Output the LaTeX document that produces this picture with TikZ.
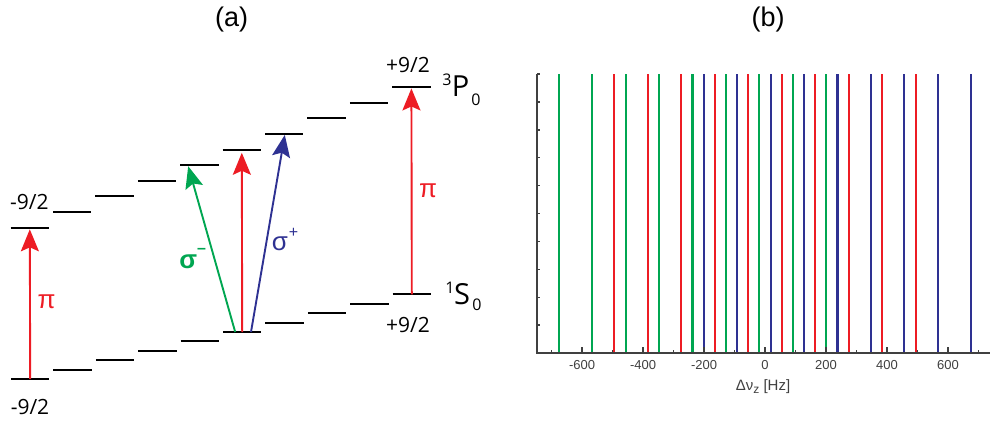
\documentclass[tikz,border=0pt]{standalone}
\usepackage{fontspec}
\setmainfont{Open Sans}
\newfontfamily\arial{Liberation Sans}
\usetikzlibrary{arrows.meta}
\definecolor{cred}{HTML}{ED1C24}
\definecolor{cgreen}{HTML}{00A651}
\definecolor{cblue}{HTML}{2E3192}
\definecolor{caxis}{HTML}{404040}
\tikzset{
  level/.style={line width=1.05pt, black},
  trans/.style={line width=0.95pt, -{Stealth[length=11pt,width=9pt,inset=2pt]}},
  lab/.style={inner sep=0pt, font=\fontsize{10.5}{11}\selectfont},
  term/.style={inner sep=0pt, font=\fontsize{14.5}{15}\selectfont},
  small/.style={inner sep=0pt, font=\fontsize{8}{9}\selectfont},
  panel/.style={inner sep=0pt, font=\arial\fontsize{13.5}{14}\selectfont},
  spec/.style={line width=1.05pt},
  axisline/.style={line width=0.7pt, caxis},
  ticklab/.style={inner sep=0pt, font=\arial\fontsize{6.5}{7}\selectfont, text=caxis},
}
\begin{document}
\begin{tikzpicture}[x=0.5pt,y=-0.5pt]
\useasboundingbox (0,0) rectangle (990,424);
% ---------------- panel (a) ----------------
\node[panel] (pa) at (231.7,20) {(a)};
\foreach \i in {0,...,9} {
  \coordinate (L\i) at ({30.2+42.4*\i},{379-9.4*\i});
  \coordinate (U\i) at ({29.8+42.4*\i},{227.7-15.63*\i});
  \draw[level] (L\i) ++(-19.2,0) -- ++(38.4,0);
  \draw[level] (U\i) ++(-19.2,0) -- ++(38.4,0);
}
% transitions
\draw[trans, cred] (L0) -- ([yshift=-0.8pt]U0);
\draw[trans, cred] (L9) -- ([yshift=-0.7pt]U9);
\draw[trans, cred] (L5) -- ([yshift=-1.6pt]U5);
\draw[trans, cgreen] ([xshift=-3.5pt]L5) -- ([xshift=-5.6pt,yshift=-0.5pt]U4);
\draw[trans, cblue] ([xshift=4.4pt]L5) -- ([xshift=0.3pt,yshift=-0.5pt]U6);
% labels
\node[lab] (mlo) at (30,406.7) {-9/2};
\node[lab] (mup) at (29.3,201.7) {-9/2};
\node[lab] (plo) at (408,325) {+9/2};
\node[lab] (pup) at (408,65) {+9/2};
\node[term] (P) at (460.5,86) {P};
\node[small] (Psup) at (447,80) {3};
\node[small] (Psub) at (476,99.5) {0};
\node[term] (S) at (462,294.5) {S};
\node[small] (Ssup) at (450,287.5) {1};
\node[small] (Ssub) at (477,305) {0};
\node[inner sep=0pt, text=cred, font=\arial\fontsize{13}{14}\selectfont] (pil) at (46.7,302) {π};
\node[inner sep=0pt, text=cred, font=\arial\fontsize{13}{14}\selectfont] (pir) at (428,190.7) {π};
\node[inner sep=0pt, text=cgreen, font=\arial\bfseries\fontsize{13}{14}\selectfont] (sm) at (188.3,262) {σ};
\node[inner sep=0pt, text=cgreen, font=\arial\bfseries\fontsize{8}{9}\selectfont] (smsup) at (201.5,251) {–};
\node[inner sep=0pt, text=cblue, font=\arial\fontsize{13}{14}\selectfont] (sp) at (280,243.5) {σ};
\node[inner sep=0pt, text=cblue, font=\arial\fontsize{8}{9}\selectfont] (spsup) at (293.5,233) {+};
% ---------------- panel (b) ----------------
\node[panel] (pb) at (768,20) {(b)};
\foreach \f in {-495,-385,-275,-165,-55,55,165,275,385,495}
  \draw[spec, cred] ({765+0.305*\f},74) -- ({765+0.305*\f},353);
\foreach \k in {0,...,8} {
  \draw[spec, cblue] ({765+0.305*(676-109.6*\k)},74) -- ({765+0.305*(676-109.6*\k)},353);
  \draw[spec, cgreen] ({765-0.305*(676-109.6*\k)},74) -- ({765-0.305*(676-109.6*\k)},353);
}
\coordinate (O) at (537,353);
\coordinate (Top) at (537,74);
\coordinate (R) at (990,353);
\draw[axisline] (Top) -- (O) -- (R);
\foreach \k in {0,...,10}
  \draw[axisline] (537,{74+27.9*\k}) -- ++(2.5,0);
\foreach \v in {-600,-400,-200,0,200,400,600} {
  \draw[axisline] ({765+0.305*\v},353) -- ++(0,-6);
  \node[ticklab] at ({765+0.305*\v},365) {\v};
}
\foreach \v in {-700,-500,-300,-100,100,300,500,700}
  \draw[axisline] ({765+0.305*\v},353) -- ++(0,-3);
\node[inner sep=0pt, text=caxis, font=\arial\fontsize{7.5}{8}\selectfont] (xl) at (763,386.5) {Δν\raisebox{-0.45ex}{\fontsize{6}{6}\selectfont z} [Hz]};
\end{tikzpicture}
\end{document}
